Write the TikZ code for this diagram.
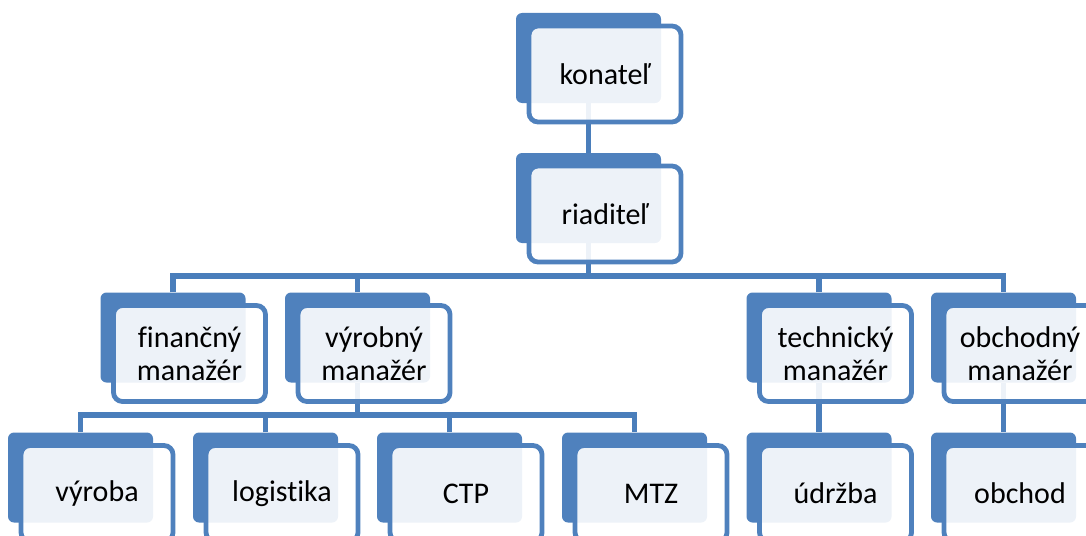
\documentclass[tikz,border=0pt]{standalone}
\usepackage{fontspec}
\setmainfont[Ligatures=NoCommon]{Carlito}
\definecolor{boxblue}{HTML}{4F81BD}
\definecolor{lineblue}{HTML}{4A7EBB}
\pgfdeclarelayer{background}
\pgfsetlayers{background,main}
\newcommand\orgbox[4]{%
  \node[backbox] (#1) at (#2,#3) {};
  \node[frontbox] (#1f) at ([shift={(16.5,16)}]#1.center) {#4};}
\begin{document}
\begin{tikzpicture}[x=1pt,y=-1pt,
  backbox/.style={draw=none,fill=boxblue,rounded corners=6pt,minimum width=145pt,minimum height=90pt,inner sep=0pt},
  frontbox/.style={draw=boxblue,line width=4.8pt,fill=white,fill opacity=0.9,draw opacity=1,text opacity=1,rounded corners=9pt,minimum width=152pt,minimum height=96pt,inner sep=0pt,align=center,font=\fontsize{30}{33}\selectfont},
  conn/.style={draw=lineblue,line width=5.5pt}]
\useasboundingbox (0,0) rectangle (1086,535);
\clip (0,0) rectangle (1086,535);
\orgbox{kon}{588.5}{58}{konateľ}
\orgbox{ria}{588.5}{198}{riaditeľ}
\orgbox{fin}{173}{337.5}{finančný\\manažér}
\orgbox{vyr}{357.5}{337.5}{výrobný\\manažér}
\orgbox{tec}{819}{337.5}{technický\\manažér}
\orgbox{obc}{1003.5}{337.5}{obchodný\\manažér}
\orgbox{vyb}{80.5}{477.5}{výroba}
\orgbox{log}{265.5}{477.5}{logistika}
\orgbox{ctp}{449.5}{477.5}{CTP}
\orgbox{mtz}{634.5}{477.5}{MTZ}
\orgbox{udr}{819}{477.5}{údržba}
\orgbox{obh}{1003.5}{477.5}{obchod}
\coordinate (b1) at (0,276);
\coordinate (b2) at (0,415);
\begin{pgfonlayer}{background}
\draw[conn] (kon.south) -- (ria.north);
\draw[conn] (ria.south) -- (ria.south |- b1);
\draw[conn] (fin.north) -- (fin.north |- b1) -- (obc.north |- b1) -- (obc.north);
\draw[conn] (vyr.north) -- (vyr.north |- b1);
\draw[conn] (tec.north) -- (tec.north |- b1);
\draw[conn] (vyr.south) -- (vyr.south |- b2);
\draw[conn] (vyb.north) -- (vyb.north |- b2) -- (mtz.north |- b2) -- (mtz.north);
\draw[conn] (log.north) -- (log.north |- b2);
\draw[conn] (ctp.north) -- (ctp.north |- b2);
\draw[conn] (tec.south) -- (udr.north);
\draw[conn] (obc.south) -- (obh.north);
\end{pgfonlayer}
\end{tikzpicture}
\end{document}
